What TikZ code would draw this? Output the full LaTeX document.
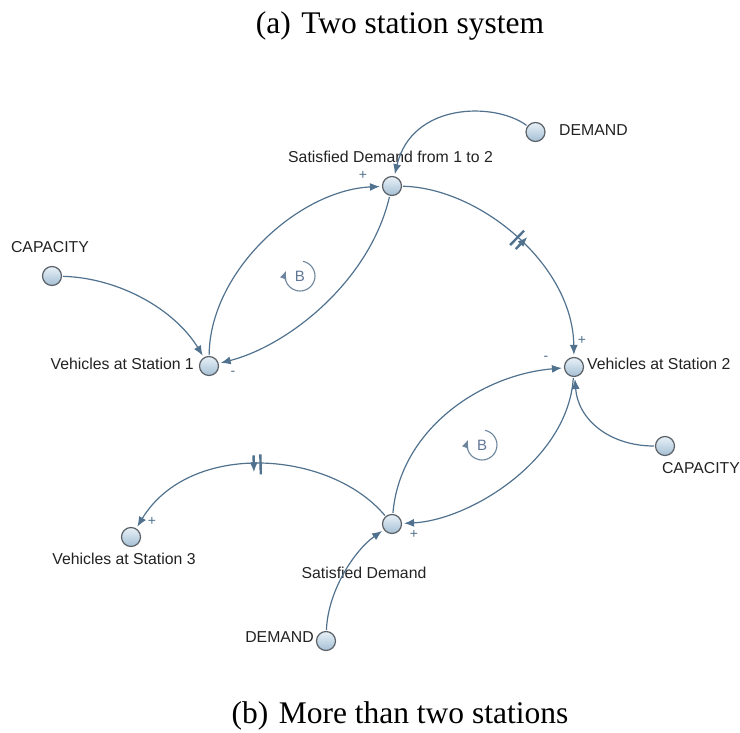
\documentclass[tikz,border=0pt]{standalone}
\usepackage{fontspec}
\setmainfont{Liberation Serif}
\setsansfont{Liberation Sans}
\usetikzlibrary{arrows.meta,decorations.markings}

\definecolor{linkblue}{RGB}{80,114,142}
\definecolor{loopblue}{RGB}{108,134,158}
\definecolor{loopletter}{RGB}{96,118,150}
\definecolor{nodeedge}{RGB}{92,98,104}
\definecolor{balltop}{RGB}{232,241,248}
\definecolor{ballbot}{RGB}{164,191,212}
\definecolor{labeltext}{RGB}{34,34,34}

\begin{document}
\begin{tikzpicture}[x=1pt,y=-1pt,
  var/.style={circle,minimum size=19pt,inner sep=0pt,draw=nodeedge,line width=1.2pt,
              top color=balltop,bottom color=ballbot},
  lbl/.style={font=\sffamily\fontsize{15.8}{18}\selectfont,text=labeltext,inner sep=0pt},
  sgn/.style={font=\sffamily\fontsize{14}{16}\selectfont,text=linkblue,inner sep=0pt},
  caption/.style={font=\fontsize{31.5}{36}\selectfont,text=black,inner sep=0pt,anchor=base},
  link/.style={draw=linkblue,line width=1.2pt,-{Latex[length=10pt,width=8pt]},
               shorten >=2pt,shorten <=1pt},
  delaymark/.style={postaction={decorate},decoration={markings,
      mark=at position #1 with {\draw[linkblue,line width=2.4pt]
        (-3.4pt,-10pt)--(-3.4pt,10pt) (3.4pt,-10pt)--(3.4pt,10pt);}}},
  loopring/.style={draw=loopblue,line width=1.1pt,-{Latex[length=8pt,width=7pt]}},
  loopletter/.style={font=\sffamily\fontsize{15}{17}\selectfont,text=loopletter,inner sep=0pt}
]
\useasboundingbox (0,0) rectangle (740,733);

% captions
\node[caption] (capA) at (400,34) {(a)\hspace{0.33em}Two station system};
\node[caption] (capB) at (400,723) {(b)\hspace{0.33em}More than two stations};

% variables
\node[var] (dT)   at (535.5,132) {};
\node[var] (sd12) at (392,186) {};
\node[var] (capL) at (52,276) {};
\node[var] (v1)   at (209,366) {};
\node[var] (v2)   at (574,367) {};
\node[var] (capR) at (665,446) {};
\node[var] (sd)   at (392,524) {};
\node[var] (v3)   at (131,537) {};
\node[var] (dB)   at (326,641) {};

% variable names
\node[lbl,anchor=west] (tdT)   at (559,130) {DEMAND};
\node[lbl]             (tsd12) at (390.5,157) {Satisfied Demand from 1 to 2};
\node[lbl]             (tcapL) at (50,247) {CAPACITY};
\node[lbl,anchor=east] (tv1)   at (194,364) {Vehicles at Station 1};
\node[lbl,anchor=west] (tv2)   at (587,364) {Vehicles at Station 2};
\node[lbl]             (tcapR) at (701,468) {CAPACITY};
\node[lbl]             (tv3)   at (124,559) {Vehicles at Station 3};
\node[lbl]             (tsd)   at (364,573) {Satisfied Demand};
\node[lbl,anchor=east] (tdB)   at (314,637) {DEMAND};

% links of the two station system
\draw[link] (dT) .. controls (495,102) and (412,102) .. (sd12);
\draw[link,delaymark=0.5] (sd12) .. controls (480,188) and (573,265) .. (v2);
\draw[link] (sd12) .. controls (370,280) and (290,345) .. (v1);
\draw[link] (v1) .. controls (210,270) and (300,190) .. (sd12);
\draw[link] (capL) .. controls (120,278) and (175,310) .. (v1);

% links of the chain
\draw[link] (v2) .. controls (568,460) and (470,520) .. (sd);
\draw[link] (sd) .. controls (400,430) and (480,375) .. (v2);
\draw[link] (capR) .. controls (610,446) and (578,420) .. (v2);
\draw[link,delaymark=0.5] (sd) .. controls (330,450) and (190,440) .. (v3);
\draw[link] (dB) .. controls (328,590) and (355,550) .. (sd);

% polarities
\node[sgn] (p1) at (363,175) {+};
\node[sgn] (p2) at (233,373) {-};
\node[sgn] (p3) at (582,340) {+};
\node[sgn] (p4) at (546,358) {-};
\node[sgn] (p5) at (414,534) {+};
\node[sgn] (p6) at (152,521) {+};

% balancing loop markers
\coordinate (loopA) at (300,276);
\coordinate (loopB) at (482,445);
\draw[loopring] ([shift={(-78:15)}]loopA) arc[start angle=-78,end angle=200,radius=15];
\node[loopletter] (bA) at (loopA) {B};
\draw[loopring] ([shift={(-78:15)}]loopB) arc[start angle=-78,end angle=200,radius=15];
\node[loopletter] (bB) at (loopB) {B};
\end{tikzpicture}
\end{document}
